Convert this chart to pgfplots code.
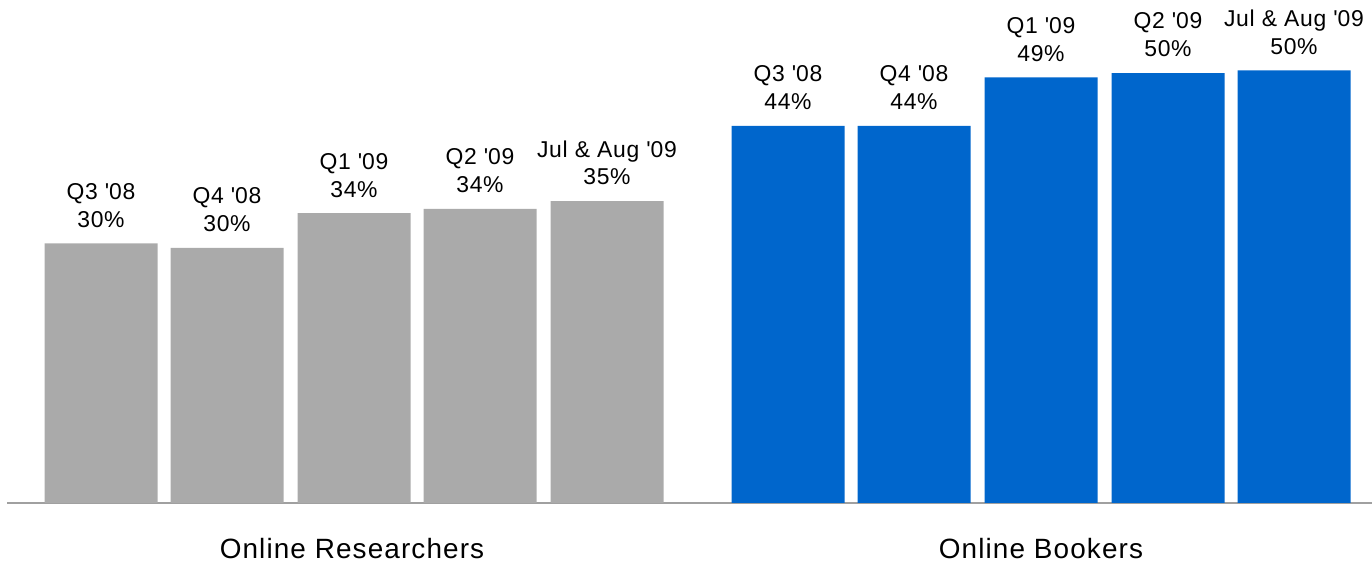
\documentclass[border=0pt]{standalone}
\usepackage{fontspec}
\setmainfont{Liberation Sans}
\usepackage{pgfplots}
\pgfplotsset{compat=1.18}
\definecolor{barGray}{HTML}{AAAAAA}
\definecolor{barBlue}{HTML}{0066CC}
\definecolor{lineGray}{HTML}{A0A0A0}
\newcommand{\q}{\textquotesingle}
\begin{document}
\begin{tikzpicture}
\begin{axis}[
  scale only axis,
  width=1372bp, height=563bp,
  xmin=0, xmax=1372,
  ymin=-6.936, ymax=58.15,
  hide axis,
  clip=false,
  ybar, bar shift=0pt, bar width=113,
  point meta=explicit symbolic,
  nodes near coords,
  every node near coord/.append style={
    anchor=south, inner sep=0pt, text depth=0pt, yshift=16bp,
    align=center, text=black,
    font=\fontsize{23}{28}\selectfont\addfontfeature{LetterSpace=3}},
]
\draw[lineGray, line width=2bp] (axis cs:7,0) -- (axis cs:1372,0);
\addplot[fill=barGray, draw=none] coordinates {
  (101,30.0) [Q3 \q08\\30\%]
  (227,29.5) [Q4 \q08\\30\%]
  (354,33.5) [Q1 \q09\\34\%]
  (480,34.0) [Q2 \q09\\34\%]
  (607,34.9) [Jul \& Aug \q09\\35\%]
};
\addplot[fill=barBlue, draw=none] coordinates {
  (788,43.6) [Q3 \q08\\44\%]
  (914,43.6) [Q4 \q08\\44\%]
  (1041,49.2) [Q1 \q09\\49\%]
  (1168,49.7) [Q2 \q09\\50\%]
  (1294,50.0) [Jul \& Aug \q09\\50\%]
};
\node[anchor=base, inner sep=0pt, font=\fontsize{28}{34}\selectfont\addfontfeature{LetterSpace=4}] at (axis cs:352,-6.36) {Online Researchers};
\node[anchor=base, inner sep=0pt, font=\fontsize{28}{34}\selectfont\addfontfeature{LetterSpace=4}] at (axis cs:1041,-6.36) {Online Bookers};
\end{axis}
\pgfresetboundingbox
\path (current axis.south west) rectangle (current axis.north east);
\end{tikzpicture}
\end{document}
